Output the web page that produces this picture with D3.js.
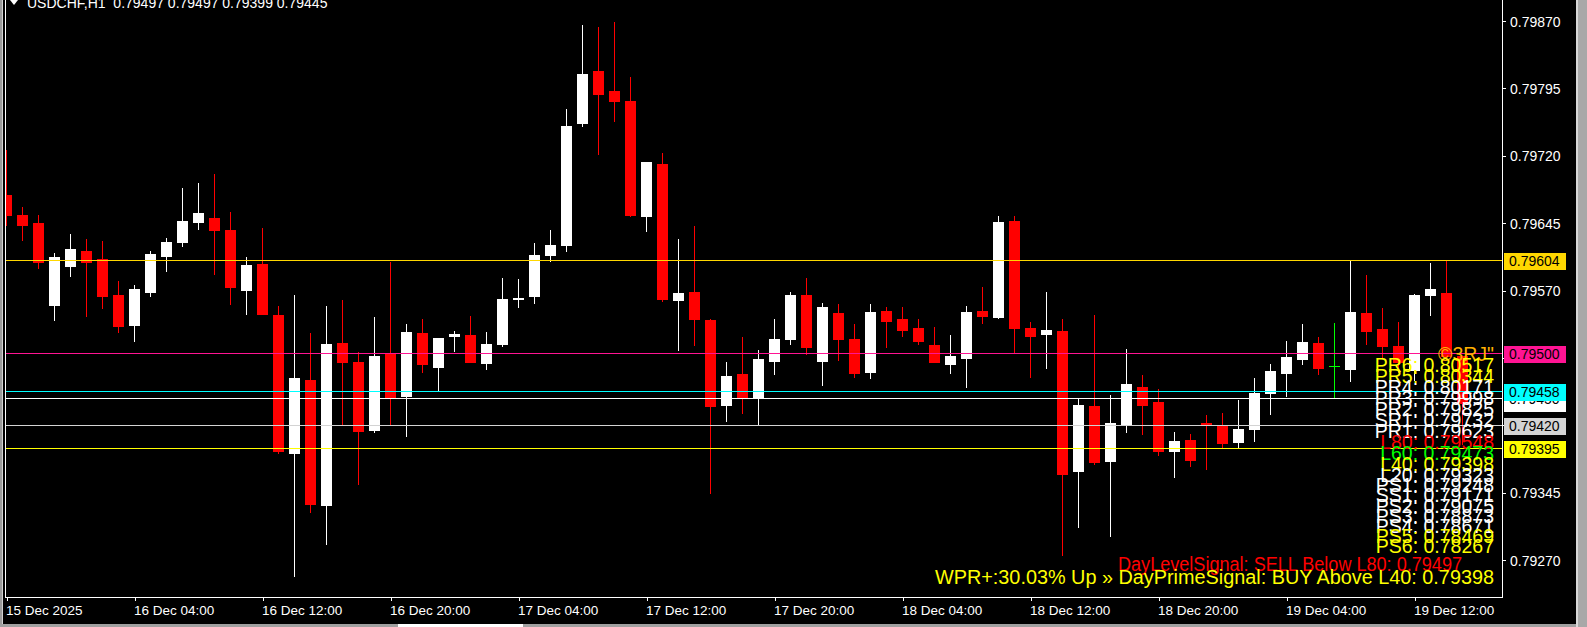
<!DOCTYPE html>
<html><head><meta charset="utf-8">
<script src="https://cdn.jsdelivr.net/npm/d3@7"></script>
<style>html,body{margin:0;padding:0;background:#000;overflow:hidden}</style>
</head><body><svg id="c" width="1587" height="627"></svg>
<script>
// ---------------- DATA ----------------
const symbol = "USDCHF,H1";
const firstBar = "2025-12-15T20:00";
const open = [0.79676,0.79654,0.79645,0.79554,0.79597,0.79614,0.79605,0.79565,0.79532,0.79568,
0.79608,0.79624,0.79646,0.79651,0.79637,0.79571,0.79600,0.79543,0.79389,0.79470,
0.79331,0.79512,0.79490,0.79415,0.79499,0.79453,0.79523,0.79485,0.79519,0.79520,
0.79489,0.79510,0.79561,0.79564,0.79610,0.79621,0.79756,0.79814,0.79792,0.79781,
0.79653,0.79711,0.79559,0.79568,0.79537,0.79443,0.79477,0.79450,0.79492,0.79516,
0.79565,0.79492,0.79545,0.79516,0.79479,0.79547,0.79538,0.79528,0.79509,0.79488,
0.79495,0.79547,0.79540,0.79647,0.79528,0.79522,0.79525,0.79369,0.79441,0.79380,
0.79420,0.79463,0.79446,0.79391,0.79404,0.79422,0.79419,0.79401,0.79416,0.79456,
0.79478,0.79494,0.79512,0.79486,0.79483,0.79545,0.79527,0.79508,0.79481,0.79565,
0.79567,0.79497];
const high = [0.79726,0.79663,0.79654,0.79612,0.79633,0.79627,0.79625,0.79581,0.79576,0.79614,
0.79628,0.79684,0.79690,0.79700,0.79657,0.79607,0.79640,0.79553,0.79565,0.79523,
0.79553,0.79559,0.79502,0.79540,0.79602,0.79533,0.79538,0.79517,0.79525,0.79542,
0.79524,0.79584,0.79583,0.79623,0.79637,0.79772,0.79865,0.79863,0.79869,0.79808,
0.79713,0.79723,0.79627,0.79642,0.79538,0.79490,0.79518,0.79504,0.79538,0.79568,
0.79584,0.79556,0.79555,0.79533,0.79555,0.79552,0.79552,0.79538,0.79529,0.79520,
0.79553,0.79574,0.79653,0.79653,0.79535,0.79568,0.79538,0.79449,0.79543,0.79454,
0.79505,0.79476,0.79460,0.79412,0.79410,0.79431,0.79434,0.79448,0.79473,0.79488,
0.79514,0.79533,0.79518,0.79534,0.79603,0.79587,0.79550,0.79535,0.79566,0.79601,
0.79604,0.79497];
const low = [0.79643,0.79626,0.79595,0.79537,0.79586,0.79542,0.79550,0.79524,0.79514,0.79564,
0.79592,0.79620,0.79638,0.79588,0.79555,0.79544,0.79544,0.79389,0.79252,0.79323,
0.79288,0.79420,0.79355,0.79412,0.79421,0.79408,0.79479,0.79458,0.79503,0.79490,
0.79483,0.79508,0.79552,0.79556,0.79603,0.79614,0.79753,0.79722,0.79759,0.79653,
0.79636,0.79558,0.79504,0.79509,0.79345,0.79425,0.79434,0.79420,0.79477,0.79510,
0.79499,0.79465,0.79493,0.79474,0.79473,0.79507,0.79519,0.79510,0.79490,0.79478,
0.79463,0.79534,0.79539,0.79500,0.79474,0.79484,0.79276,0.79307,0.79377,0.79297,
0.79412,0.79410,0.79387,0.79362,0.79375,0.79371,0.79395,0.79395,0.79403,0.79433,
0.79453,0.79488,0.79477,0.79450,0.79469,0.79510,0.79495,0.79479,0.79470,0.79543,
0.79493,0.79399];
const close = [0.79654,0.79643,0.79602,0.79607,0.79616,0.79602,0.79564,0.79530,0.79572,0.79611,
0.79624,0.79647,0.79656,0.79637,0.79574,0.79598,0.79544,0.79391,0.79473,0.79332,
0.79510,0.79490,0.79414,0.79497,0.79450,0.79524,0.79488,0.79517,0.79522,0.79490,
0.79510,0.79561,0.79562,0.79610,0.79621,0.79753,0.79811,0.79789,0.79781,0.79654,
0.79713,0.79561,0.79567,0.79538,0.79441,0.79475,0.79450,0.79494,0.79516,0.79565,
0.79507,0.79552,0.79516,0.79478,0.79546,0.79536,0.79526,0.79514,0.79490,0.79497,
0.79546,0.79542,0.79646,0.79528,0.79519,0.79526,0.79366,0.79443,0.79379,0.79422,
0.79466,0.79443,0.79391,0.79403,0.79381,0.79420,0.79400,0.79416,0.79456,0.79480,
0.79496,0.79513,0.79484,0.79486,0.79546,0.79525,0.79508,0.79490,0.79565,0.79572,
0.79497,0.79445];

const xTickBars = [0, 8, 16, 24, 32, 40, 48, 56, 64, 72, 80, 88];
const xTickLabels = ["15 Dec 2025","16 Dec 04:00","16 Dec 12:00","16 Dec 20:00","17 Dec 04:00",
  "17 Dec 12:00","17 Dec 20:00","18 Dec 04:00","18 Dec 12:00","18 Dec 20:00","19 Dec 04:00","19 Dec 12:00"];
const yTicks = [0.79870,0.79795,0.79720,0.79645,0.79570,0.79495,0.79420,0.79345,0.79270];

const hLinePrices = [0.79604, 0.79500, 0.79458, 0.79450, 0.79420, 0.79395];
const hLineColors = ["#FFD700", "#FF1493", "#00FFFF", "#FFFFFF", "#D3D3D3", "#FFFF00"];
const boxPrices = [0.79604, 0.79500, 0.79450, 0.79458, 0.79420, 0.79395];
const boxColors = ["#FFD700", "#FF1493", "#FFFFFF", "#00FFFF", "#D3D3D3", "#FFFF00"];

const copyright = "©3RJ\"";
const levelNames = ["PR6","PR5","PR4","PR3","PR2","SR1","PR1","L80","L60","L40","L20","PS1","SS1","PS2","PS3","PS4","PS5","PS6"];
const levelValues = [0.80517,0.80344,0.80171,0.79998,0.79825,0.79732,0.79623,0.79548,0.79473,0.79398,0.79323,0.79248,0.79171,0.79075,0.78873,0.78671,0.78469,0.78267];
const levelColors = ["#FFFF00","#FFFF00","#FFFFFF","#FFFFFF","#FFFFFF","#FFFFFF","#FFFFFF","#FF0000","#00FF00","#FFFF00","#FFFFFF","#FFFFFF","#FFFFFF","#FFFFFF","#FFFFFF","#FFFFFF","#FFFF00","#FFFF00"];
const signalDay = "DayLevelSignal: SELL Below L80: 0.79497";
const signalPrime = "WPR+:30.03% Up » DayPrimeSignal: BUY Above L40: 0.79398";

// ---------------- DRAW ----------------
const svg = d3.select("#c");
const W = 1587, H = 627;
const plotL = 6, plotR = 1502, plotB = 597;
const FONT = "'Liberation Sans', Arial, sans-serif";

svg.append("rect").attr("width", W).attr("height", H).attr("fill", "#000");

const bars = open.map((o, i) => ({i, o, h: high[i], l: low[i], c: close[i]}));
const x = d3.scaleLinear().domain([0, 1]).range([6.5, 22.5]);
const y = d3.scaleLinear().domain([0.79270, 0.79870]).range([560, 21]);

svg.append("defs").append("clipPath").attr("id", "plot")
  .append("rect").attr("x", plotL).attr("y", 0).attr("width", plotR - plotL).attr("height", plotB);

const gPlot = svg.append("g").attr("clip-path", "url(#plot)");

function colorOf(d) { return d.c > d.o ? "#FFFFFF" : (d.c < d.o ? "#FF0000" : "#00FF00"); }

const cg = gPlot.selectAll("g.bar").data(bars).join("g").attr("class", "bar");
cg.append("rect")
  .attr("x", d => Math.floor(x(d.i)))
  .attr("width", 1)
  .attr("y", d => Math.round(y(d.h)))
  .attr("height", d => Math.round(y(d.l)) - Math.round(y(d.h)) + 1)
  .attr("fill", colorOf);
cg.append("rect")
  .attr("x", d => Math.round(x(d.i) - 5.5))
  .attr("width", 11)
  .attr("y", d => Math.round(y(Math.max(d.o, d.c))))
  .attr("height", d => Math.max(1, Math.round(y(Math.min(d.o, d.c))) - Math.round(y(Math.max(d.o, d.c))) + 1))
  .attr("fill", colorOf);

// horizontal level lines
gPlot.selectAll("line.h").data(hLinePrices).join("line").attr("class", "h")
  .attr("x1", plotL).attr("x2", plotR)
  .attr("y1", d => Math.round(y(d)) + 0.5).attr("y2", d => Math.round(y(d)) + 0.5)
  .attr("stroke", (d, i) => hLineColors[i]).attr("stroke-width", 1);

// frame
svg.append("rect").attr("x", 0).attr("y", 0).attr("width", 2).attr("height", H).attr("fill", "#9a9a9a");
svg.append("rect").attr("x", 2).attr("y", 0).attr("width", 1).attr("height", H).attr("fill", "#d0d0d0");
svg.append("line").attr("x1", 5.5).attr("x2", 5.5).attr("y1", 0).attr("y2", plotB + 0.5).attr("stroke", "#fff");
svg.append("line").attr("x1", plotR + 0.5).attr("x2", plotR + 0.5).attr("y1", 0).attr("y2", plotB + 0.5).attr("stroke", "#fff");
svg.append("line").attr("x1", 5).attr("x2", plotR + 1).attr("y1", plotB + 0.5).attr("y2", plotB + 0.5).attr("stroke", "#fff");

// y axis
const yAxis = d3.axisRight(y).tickValues(yTicks).tickSize(3).tickPadding(4).tickFormat(d3.format(".5f"));
const gy = svg.append("g").attr("transform", `translate(${plotR + 1},0)`).call(yAxis);
gy.select(".domain").remove();
gy.selectAll(".tick line").attr("stroke", "#fff").attr("shape-rendering", "crispEdges");
gy.selectAll(".tick text").attr("fill", "#fff").attr("font-family", FONT).attr("font-size", 14)
  .attr("x", 7).attr("dy", "0.36em");

// x axis
const xAxis = d3.axisBottom(x).tickValues(xTickBars).tickSize(4).tickFormat((d, i) => xTickLabels[i]);
const gx = svg.append("g").attr("transform", `translate(0,${plotB})`).call(xAxis);
gx.select(".domain").remove();
gx.selectAll(".tick line").attr("stroke", "#fff").attr("shape-rendering", "crispEdges");
gx.selectAll(".tick text").attr("fill", "#fff").attr("font-family", FONT).attr("font-size", 13.5)
  .attr("text-anchor", "start").attr("x", -1).attr("y", 18).attr("dy", 0);

// price label boxes
const gb = svg.append("g");
boxPrices.forEach((p, i) => {
  const yy = Math.round(y(p));
  const shift = boxColors[i] === "#FFFFFF" ? 4 : 0;   // overlapped label pushed down
  gb.append("rect").attr("x", 1504).attr("y", yy - 7 + shift).attr("width", 62).attr("height", 17).attr("fill", boxColors[i]);
  gb.append("text").attr("x", 1509).attr("y", yy + 6).attr("fill", "#000")
    .attr("font-family", FONT).attr("font-size", 14).text(d3.format(".5f")(p));
});

// title
svg.append("path").attr("d", "M10,0 L18,0 L14,5 Z").attr("fill", "#fff");
const last = bars[bars.length - 1];
svg.append("text").attr("x", 27).attr("y", 8).attr("fill", "#fff").attr("font-family", FONT).attr("font-size", 14)
  .attr("xml:space", "preserve")
  .text(`${symbol}  ${[last.o, last.h, last.l, last.c].map(d3.format(".5f")).join(" ")}`);

// text overlay (levels)
const gt = svg.append("g").attr("font-family", FONT).attr("font-size", 19.5).attr("text-anchor", "end");
gt.append("text").attr("x", 1494).attr("y", 361).attr("fill", "#FFB000").text(copyright);
const levelY = i => i <= 10 ? 372 + i * 11.0 : 482 + (i - 10) * 10.2;
gt.selectAll("text.lv").data(levelNames).join("text").attr("class", "lv")
  .attr("x", 1494).attr("y", (d, i) => levelY(i))
  .attr("fill", (d, i) => levelColors[i])
  .text((d, i) => `${d}: ${d3.format(".5f")(levelValues[i])}`);
gt.append("text").attr("x", 1462).attr("y", 571).attr("fill", "#FF0000")
  .attr("textLength", 344).attr("lengthAdjust", "spacingAndGlyphs").text(signalDay);
gt.append("text").attr("x", 1494).attr("y", 584).attr("fill", "#FFFF00")
  .attr("textLength", 559).attr("lengthAdjust", "spacingAndGlyphs").text(signalPrime);

// window chrome at right / bottom
svg.append("rect").attr("x", 1576).attr("y", 0).attr("width", 2).attr("height", H).attr("fill", "#d8d8d8");
svg.append("rect").attr("x", 1578).attr("y", 0).attr("width", 9).attr("height", H).attr("fill", "#a8a8a8");
svg.append("rect").attr("x", 0).attr("y", 624).attr("width", 1576).attr("height", 3).attr("fill", "#a0a0a0");
svg.append("rect").attr("x", 398).attr("y", 624).attr("width", 125).attr("height", 3).attr("fill", "#ffffff");
</script></body></html>
